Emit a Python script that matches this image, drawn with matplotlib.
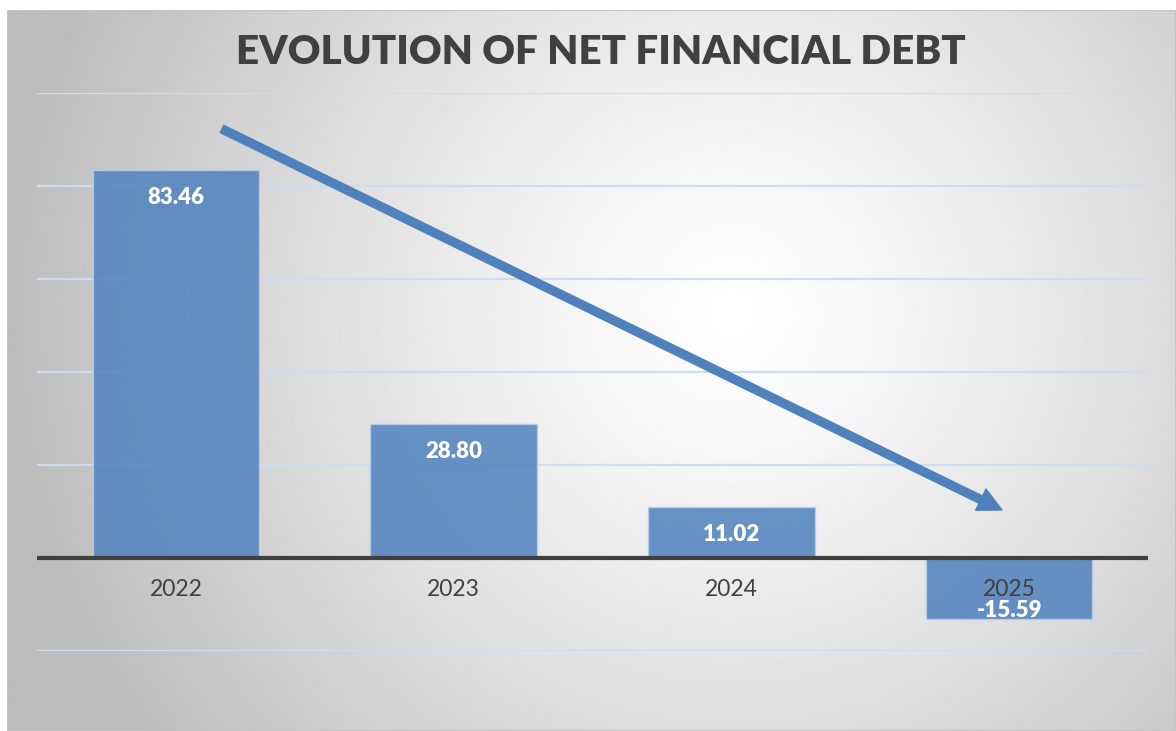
import numpy as np
import matplotlib
matplotlib.use("Agg")
import matplotlib.pyplot as plt

# data
years = ["2022", "2023", "2024", "2025"]
bar_values = [83.46, 28.80, 11.02, -13.1]
bar_labels = ["83.46", "28.80", "11.02", "-15.59"]
grid_levels = [-20, 0, 20, 40, 60, 80, 100]

TEXT = "#404040"
BLUE = "#4f81bd"

plt.rcParams['font.family'] = ['Lato', 'DejaVu Sans']

fig = plt.figure(figsize=(11.76, 7.31), dpi=100)
fig.patch.set_facecolor("white")

# radial grey -> white background of the chart area
bg = fig.add_axes([7 / 1176, 0, 1 - 7 / 1176, (731 - 10) / 731])
h, w = 360, 585
yy, xx = np.mgrid[0:h, 0:w]
cx, cy = 0.62 * w, 0.42 * h
d = np.hypot((xx - cx) / w, (yy - cy) / h * 0.62)
shade = 1 - 0.26 * np.clip(d / 0.62, 0, 1) ** 1.25
bg.imshow(shade, cmap="gray", vmin=0, vmax=1, aspect="auto", extent=[0, 1, 0, 1])
bg.set_axis_off()
bg.add_patch(plt.Rectangle((0, 0), 1, 1, transform=bg.transAxes, fill=False,
                           edgecolor="#c4c4c4", lw=1.5))

ax = fig.add_axes([37 / 1176, (731 - 651) / 731, 1111 / 1176, 558 / 731])
ax.set_facecolor("none")
ax.set_xlim(-0.5, len(years) - 0.5)
ax.set_ylim(-20, 100)
for s in ax.spines.values():
    s.set_visible(False)
ax.set_xticks([])
ax.set_yticks([])

for g in grid_levels:
    if g == 0:
        continue
    ax.axhline(g, color="#cddcf0", lw=1.6, zorder=1)

x = np.arange(len(years))
bars = ax.bar(x, bar_values, width=0.6, color=BLUE, alpha=0.85,
              edgecolor="#b8cde8", linewidth=1, zorder=2)

ax.axhline(0, color=TEXT, lw=3, zorder=3)

for xi, v, lab in zip(x, bar_values, bar_labels):
    off = -20 if v > 0 else 6
    ax.annotate(lab, (xi, v), xytext=(0, off), textcoords="offset points",
                ha="center", va="center", color="white", fontsize=16,
                fontweight="heavy", zorder=5)

for xi, yr in zip(x, years):
    ax.annotate(yr, (xi, 0), xytext=(0, -23), textcoords="offset points",
                ha="center", va="center", color=TEXT, fontsize=16.5, zorder=4)

# trend arrow
ax.annotate("", xy=(0.8686, 0.2527), xytext=(0.1665, 0.9355),
            xycoords="axes fraction", textcoords="axes fraction",
            arrowprops=dict(facecolor=BLUE, edgecolor=BLUE, width=5.8,
                            headwidth=17, headlength=17, shrink=0),
            zorder=6)

fig.text(0.511, (731 - 52) / 731, "EVOLUTION OF NET FINANCIAL DEBT",
         ha="center", va="center", color=TEXT, fontsize=29, fontweight="heavy")

fig.savefig("out.png", dpi=100)
